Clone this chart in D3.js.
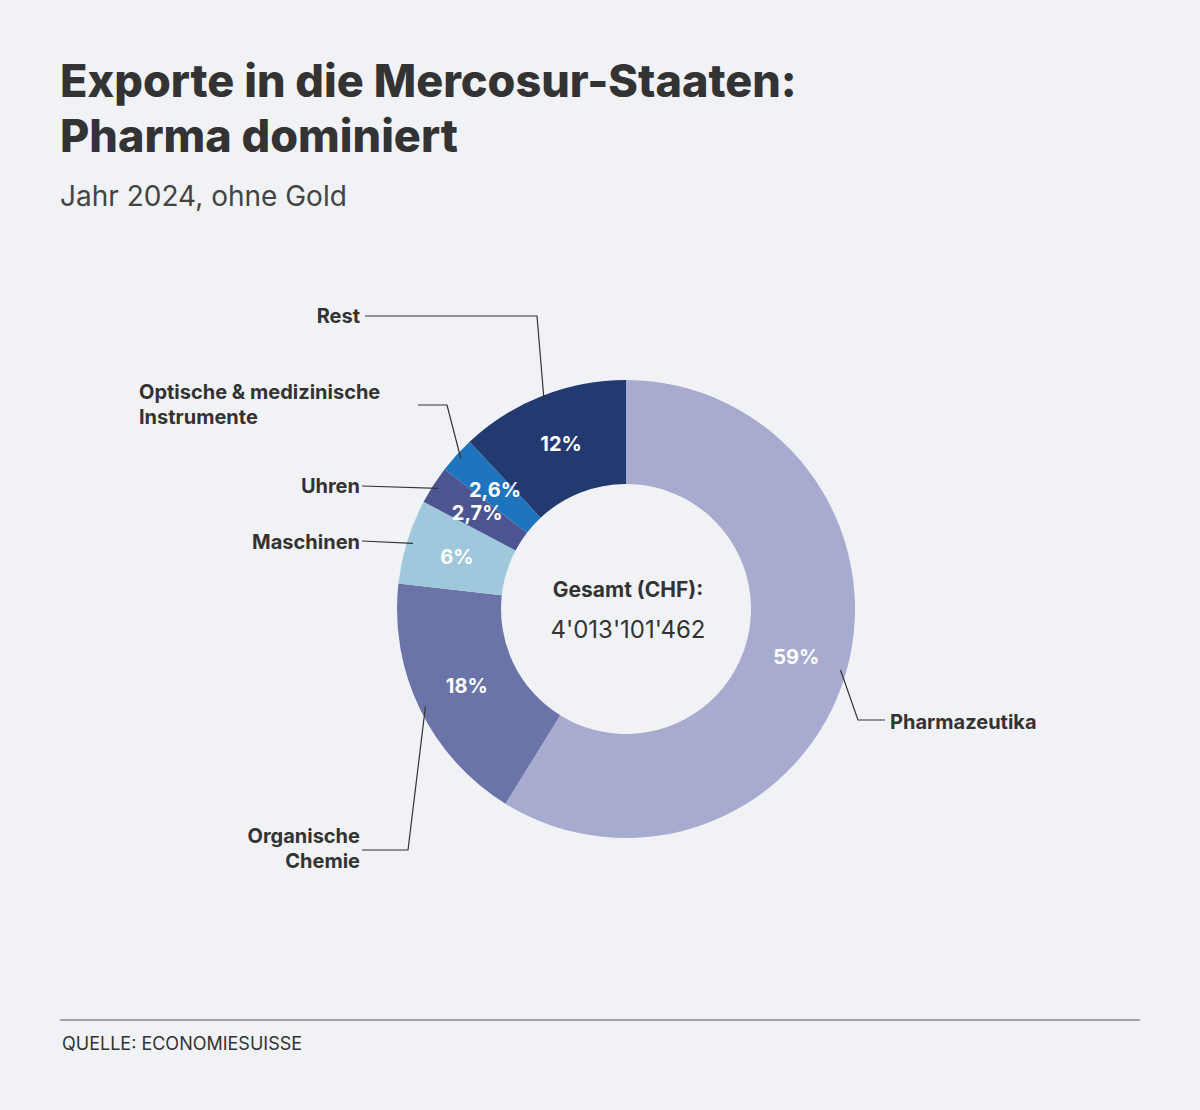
<!DOCTYPE html>
<html><head><meta charset="utf-8">
<script src="https://cdn.jsdelivr.net/npm/d3@7"></script>
<style>body{margin:0;background:#f0f2f5;}svg{display:block;font-family:Inter,"Open Sans",sans-serif;}</style>
</head><body><svg id="c" width="1200" height="1110"></svg>
<script>
const categories=["Pharmazeutika","Organische Chemie","Maschinen","Uhren","Optische & medizinische Instrumente","Rest"];
const values=[59,18,6,2.7,2.6,12];
const valueLabels=["59%","18%","6%","2,7%","2,6%","12%"];
const colors=["#a6abcf","#6b74a8","#9fc8dc","#4d5590","#1f74be","#233a70"];
// label layout: [lines], elbow point, text anchor x, text y (first line), anchor
const labelLayout=[
 {lines:["Pharmazeutika"],elbow:[858,720],end:[885,720],tx:890,ty:729,anchor:"start"},
 {lines:["Organische","Chemie"],elbow:[408,850],end:[362,850],tx:360,ty:843,anchor:"end"},
 {lines:["Maschinen"],elbow:null,end:[362,541],tx:360,ty:549,anchor:"end"},
 {lines:["Uhren"],elbow:null,end:[362,486],tx:360,ty:493,anchor:"end"},
 {lines:["Optische & medizinische","Instrumente"],elbow:[447,405],end:[418,405],tx:139,ty:399,anchor:"start"},
 {lines:["Rest"],elbow:[537,316],end:[365,316],tx:360,ty:323,anchor:"end"}
];
const svg=d3.select("#c");
svg.append("text").attr("x",60).attr("y",97).attr("font-size",45).attr("font-weight",800).attr("fill","#333").text("Exporte in die Mercosur-Staaten:");
svg.append("text").attr("x",60).attr("y",152).attr("font-size",45).attr("font-weight",800).attr("fill","#333").text("Pharma dominiert");
svg.append("text").attr("x",60).attr("y",206).attr("font-size",28).attr("fill","#444").text("Jahr 2024, ohne Gold");
const cx=626,cy=609,R=229,r0=125;
const g=svg.append("g").attr("transform",`translate(${cx},${cy})`);
const pie=d3.pie().sort(null).value(d=>d)(values);
const arc=d3.arc().innerRadius(r0).outerRadius(R);
g.selectAll("path").data(pie).join("path").attr("d",arc).attr("fill",(d,i)=>colors[i]);
g.selectAll("text.v").data(pie).join("text").attr("class","v")
 .attr("x",d=>arc.centroid(d)[0]).attr("y",d=>arc.centroid(d)[1]+7)
 .attr("text-anchor","middle").attr("font-size",20).attr("font-weight",700).attr("fill","#fff")
 .text((d,i)=>valueLabels[i]);
const edge=d3.arc().innerRadius(R-6).outerRadius(R-6);
pie.forEach((d,i)=>{
 const L=labelLayout[i];
 const s=edge.centroid(d);
 const pts=[[cx+s[0],cy+s[1]]];
 if(L.elbow)pts.push(L.elbow);
 pts.push(L.end);
 svg.append("path").attr("d",d3.line()(pts)).attr("fill","none").attr("stroke","#333").attr("stroke-width",1.2);
 L.lines.forEach((t,k)=>svg.append("text").attr("x",L.tx).attr("y",L.ty+k*25).attr("text-anchor",L.anchor)
  .attr("font-size",20).attr("font-weight",700).attr("fill","#333").text(t));
});
svg.append("text").attr("x",cx+2).attr("y",597).attr("text-anchor","middle").attr("font-size",21).attr("font-weight",700).attr("fill","#333").text("Gesamt (CHF):");
svg.append("text").attr("x",cx+2).attr("y",638).attr("text-anchor","middle").attr("font-size",24).attr("fill","#333").text("4'013'101'462");
svg.append("line").attr("x1",60).attr("x2",1140).attr("y1",1020).attr("y2",1020).attr("stroke","#888").attr("stroke-width",1.5);
svg.append("text").attr("x",62).attr("y",1050).attr("font-size",18).attr("fill","#333").text("QUELLE: ECONOMIESUISSE");
</script></body></html>
